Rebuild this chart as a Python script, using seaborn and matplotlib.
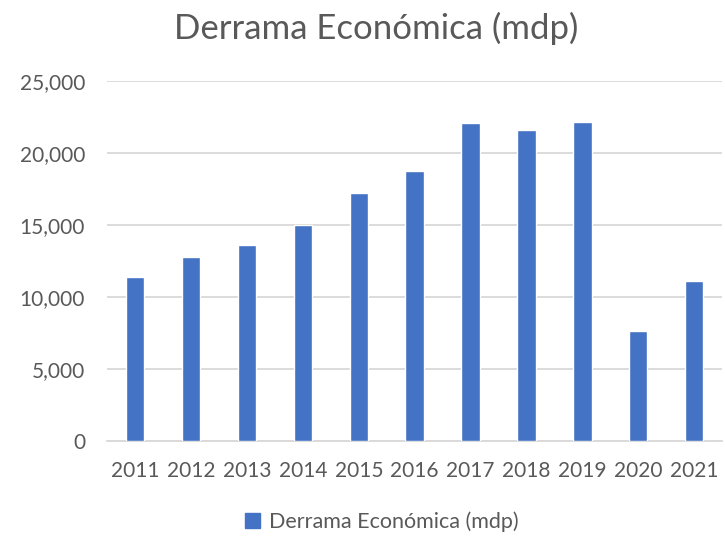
import matplotlib
matplotlib.use("Agg")
import matplotlib.pyplot as plt
import seaborn as sns
import pandas as pd
from matplotlib.ticker import FuncFormatter
from matplotlib.patches import Patch

years = ["2011", "2012", "2013", "2014", "2015", "2016", "2017", "2018", "2019", "2020", "2021"]
derrama = [11400, 12800, 13600, 15000, 17250, 18780, 22060, 21580, 22130, 7620, 11090]
series_name = "Derrama Económica (mdp)"

sns.set_theme(style="white")
plt.rcParams['font.family'] = ['Lato', 'DejaVu Sans']
txt = "#595959"

df = pd.DataFrame({"year": years, "value": derrama})
fig = plt.figure(figsize=(7.25, 5.4), dpi=100)
ax = fig.add_axes([0.148, 0.183, 0.848, 0.667])
sns.barplot(data=df, x="year", y="value", color="#4472C4", width=0.33,
            saturation=1, ax=ax, zorder=3)
ax.set_ylim(0, 25000)
ax.set_yticks([0, 5000, 10000, 15000, 20000, 25000])
ax.yaxis.set_major_formatter(FuncFormatter(lambda v, p: f"{int(v):,}"))
ax.grid(axis="y", color="#d9d9d9", linewidth=1.3, zorder=0)
for s in ["top", "right", "left"]:
    ax.spines[s].set_visible(False)
ax.spines["bottom"].set_color("#d9d9d9")
ax.spines["bottom"].set_linewidth(1.3)
ax.tick_params(axis="both", length=0, labelsize=15, colors=txt)
ax.tick_params(axis="x", pad=14)
ax.tick_params(axis="y", pad=16)
ax.set_xlabel("")
ax.set_ylabel("")
fig.suptitle(series_name, x=0.519, y=0.978, fontsize=25, color=txt)
fig.legend(handles=[Patch(color="#4472C4", label=series_name)], loc="center",
           bbox_to_anchor=(0.527, 0.033), frameon=False, fontsize=15.5,
           labelcolor=txt, handlelength=0.7, handleheight=0.7, handletextpad=0.4)
fig.savefig("out.png", dpi=100)
